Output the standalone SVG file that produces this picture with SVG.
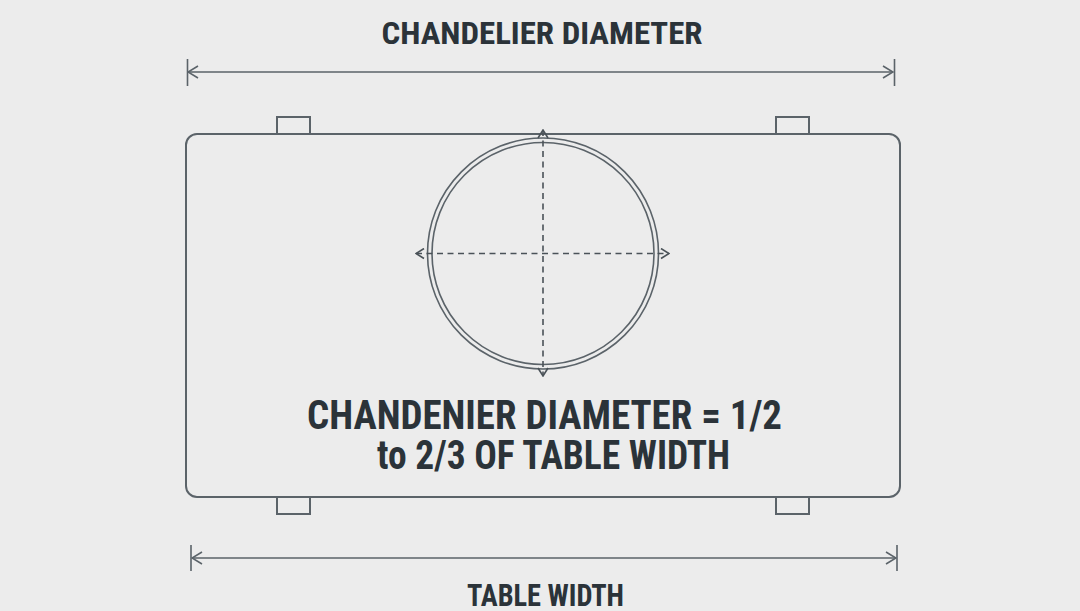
<svg xmlns="http://www.w3.org/2000/svg" width="1080" height="611" viewBox="0 0 1080 611">
  <defs>
    <style>
      .ln { fill: none; stroke: #5b6369; stroke-width: 2; }
      .thin { fill: none; stroke: #5b6369; stroke-width: 1.6; }
      .dash { fill: none; stroke: #4a5258; stroke-width: 1.6; stroke-dasharray: 6 4.5; }
      .txt { font-family: "Roboto Condensed", Roboto, "Liberation Sans", sans-serif; font-weight: 700; fill: #2b3339; text-anchor: middle; }
    </style>
    <marker id="chev" viewBox="0 0 12 14" refX="11" refY="7" markerWidth="12" markerHeight="14" markerUnits="userSpaceOnUse" orient="auto-start-reverse">
      <path d="M1,1 L11,7 L1,13" fill="none" stroke="#5b6369" stroke-width="1.6"/>
    </marker>
    <marker id="chevs" viewBox="0 0 10 12" refX="9" refY="6" markerWidth="10" markerHeight="12" markerUnits="userSpaceOnUse" orient="auto-start-reverse">
      <path d="M1,1 L9,6 L1,11" fill="none" stroke="#4a5258" stroke-width="1.6"/>
    </marker>
  </defs>
  <rect x="0" y="0" width="1080" height="611" fill="#ececec"/>

  <g id="title">
    <text class="txt" x="542" y="44" font-size="32" textLength="321" lengthAdjust="spacingAndGlyphs">CHANDELIER DIAMETER</text>
  </g>

  <g id="table">
    <rect x="277" y="117" width="33" height="17" class="ln"/>
    <rect x="776" y="117" width="33" height="17" class="ln"/>
    <rect x="277" y="497" width="33" height="17" class="ln"/>
    <rect x="776" y="497" width="33" height="17" class="ln"/>
    <rect x="186" y="134" width="714" height="363" rx="11" ry="11" class="ln" fill="#ececec"/>
  </g>

  <g id="chandelier">
    <circle cx="543" cy="253.5" r="115.5" class="thin"/>
    <circle cx="543" cy="253.5" r="111" class="thin"/>
  </g>

  <g id="connectors">
    <line x1="188" y1="72" x2="893" y2="72" class="thin" marker-start="url(#chev)" marker-end="url(#chev)"/>
    <line x1="187.5" y1="59" x2="187.5" y2="86" class="thin"/>
    <line x1="894.5" y1="59" x2="894.5" y2="86" class="thin"/>

    <line x1="192" y1="558" x2="896" y2="558" class="thin" marker-start="url(#chev)" marker-end="url(#chev)"/>
    <line x1="191" y1="545" x2="191" y2="571" class="thin"/>
    <line x1="897" y1="545" x2="897" y2="571" class="thin"/>

    <line x1="543" y1="130" x2="543" y2="376" class="dash" marker-start="url(#chevs)" marker-end="url(#chevs)"/>
    <line x1="416" y1="253.5" x2="669" y2="253.5" class="dash" marker-start="url(#chevs)" marker-end="url(#chevs)"/>
  </g>

  <g id="rule">
    <text class="txt" x="544.5" y="429" font-size="40" textLength="475" lengthAdjust="spacingAndGlyphs">CHANDENIER DIAMETER = 1/2</text>
    <text class="txt" x="553.5" y="469" font-size="40" textLength="353" lengthAdjust="spacingAndGlyphs">to 2/3 OF TABLE WIDTH</text>
  </g>

  <g id="table-width-label">
    <text class="txt" x="545.5" y="606" font-size="32" textLength="157" lengthAdjust="spacingAndGlyphs">TABLE WIDTH</text>
  </g>
</svg>
